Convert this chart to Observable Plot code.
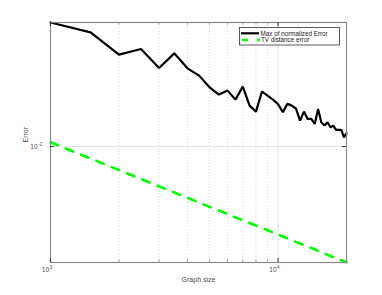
<!DOCTYPE html>
<html>
<head>
<meta charset="utf-8">
<script src="https://cdn.jsdelivr.net/npm/d3@7"></script>
<script src="https://cdn.jsdelivr.net/npm/@observablehq/plot@0.6"></script>
<style>
  html, body { margin: 0; padding: 0; background: #fff; }
  #chart { width: 382px; height: 295px; }
</style>
</head>
<body>
<div id="chart"></div>
<script>
const graphSizes = [1000,1500,2000,2500,3000,3500,4000,4500,5000,5500,6000,6500,7000,7500,8000,8500,9000,9500,10000,
  10500,11000,11500,12000,12500,13000,13500,14000,14500,15000,15500,16000,16500,17000,17500,18000,18500,19000,19500,20000];
const maxNormError = [0.0477,0.04213,0.03182,0.03419,0.02692,0.03235,0.02679,0.02443,0.02109,0.01924,0.02023,0.01806,0.02128,0.01675,0.01553,0.01997,0.01900,0.01806,0.01707,
  0.01543,0.01712,0.01675,0.01613,0.01387,0.01553,0.01417,0.01417,0.01330,0.01607,0.01358,0.01302,0.01358,0.01275,0.01302,0.01234,0.01234,0.01231,0.01124,0.01182];
const tvError = [0.01056,0.00860,0.00744,0.00665,0.00606,0.00561,0.00525,0.00494,0.00468,0.00447,0.00428,0.00410,0.00396,0.00382,0.00370,0.00359,0.00349,0.00339,0.00331,
  0.00322,0.00315,0.00308,0.00301,0.00295,0.00289,0.00284,0.00279,0.00274,0.00269,0.00265,0.00261,0.00256,0.00252,0.00249,0.00246,0.00242,0.00239,0.00236,0.00233];
const xMajorTicks = [1000, 10000];
const xMajorExponents = ["3", "4"];
const xMinorTicks = [2000,3000,4000,5000,6000,7000,8000,9000,20000];
const yMajorTicks = [0.01];
const yMajorExponents = ["-2"];
const tickBase = "10";
const seriesNames = ["Max of normalized Error", "TV distance error"];
const xLabel = "Graph size";
const yLabel = "Error";

const W = 382, H = 295, mL = 50, mR = 36, mT = 22, mB = 33;
const innerH = H - mT - mB, innerW = W - mL - mR;
const data = graphSizes.map((g, i) => ({g, m: maxNormError[i], t: tvError[i]}));
const axisColor = "#8a8a8a";
const textColor = "#4d4d4d";
const font = "'Liberation Sans', Arial, sans-serif";

const svg = Plot.plot({
  width: W, height: H,
  marginLeft: mL, marginRight: mR, marginTop: mT, marginBottom: mB,
  x: {type: "log", domain: [1000, 20000], axis: null},
  y: {type: "log", domain: [0.002323, 0.0477], axis: null},
  style: {background: "white", fontFamily: font},
  marks: [
    Plot.ruleX(xMinorTicks.filter(d => d < 20000), {x: d => d, stroke: "#cfcfcf", strokeWidth: 0.8, strokeDasharray: "1,2"}),
    Plot.ruleX([10000], {x: d => d, stroke: "#e2e2e2", strokeWidth: 1}),
    Plot.ruleY(yMajorTicks, {y: d => d, stroke: "#e2e2e2", strokeWidth: 1}),
    Plot.line(data, {x: "g", y: "t", stroke: "#00ff00", strokeWidth: 2.6, strokeDasharray: "8,8.5"}),
    Plot.line(data, {x: "g", y: "m", stroke: "black", strokeWidth: 2.2, strokeLinejoin: "miter"}),
    Plot.frame({stroke: axisColor, strokeWidth: 1.2}),
    // inward ticks
    Plot.tickX(xMinorTicks, {x: d => d, insetTop: innerH - 2.5, stroke: axisColor, strokeWidth: 0.8}),
    Plot.tickX(xMinorTicks, {x: d => d, insetBottom: innerH - 2.5, stroke: axisColor, strokeWidth: 0.8}),
    Plot.tickX(xMajorTicks, {x: d => d, insetTop: innerH - 4, stroke: "#333", strokeWidth: 1}),
    Plot.tickX(xMajorTicks, {x: d => d, insetBottom: innerH - 4, stroke: "#333", strokeWidth: 1}),
    Plot.tickY(yMajorTicks, {y: d => d, insetRight: innerW - 4, stroke: "#333", strokeWidth: 1}),
    Plot.tickY(yMajorTicks, {y: d => d, insetLeft: innerW - 4, stroke: "#333", strokeWidth: 1}),
    // tick labels: base "10" + superscript exponent
    Plot.text(xMajorTicks, {x: d => d, text: () => tickBase, frameAnchor: "bottom", dx: -1.5, dy: 9, textAnchor: "end", fontSize: 6.5, fill: textColor}),
    Plot.text(xMajorTicks, {x: d => d, text: (d, i) => xMajorExponents[i], frameAnchor: "bottom", dx: -1, dy: 6.5, textAnchor: "start", fontSize: 4.8, fill: textColor}),
    Plot.text(yMajorTicks, {y: d => d, text: () => tickBase, frameAnchor: "left", dx: -13, dy: 0.5, textAnchor: "end", fontSize: 6.5, fill: textColor}),
    Plot.text(yMajorTicks, {y: d => d, text: (d, i) => yMajorExponents[i], frameAnchor: "left", dx: -12.6, dy: -2, textAnchor: "start", fontSize: 4.8, fill: textColor}),
    Plot.text([xLabel], {text: d => d, frameAnchor: "bottom", dy: 19, fontSize: 7, fill: textColor}),
    Plot.text([yLabel], {text: d => d, frameAnchor: "left", dx: -25, rotate: -90, fontSize: 7, fill: textColor})
  ]
});
document.getElementById("chart").appendChild(svg);

// legend box (top right, inside axes)
const s = d3.select(svg);
const lg = s.append("g").attr("font-family", font).attr("font-size", 6.3).attr("fill", "#222").attr("text-anchor", "start");
lg.append("rect").attr("x", 239.5).attr("y", 27.5).attr("width", 100).attr("height", 17.5)
  .attr("fill", "white").attr("stroke", "#333").attr("stroke-width", 0.8);
lg.append("line").attr("x1", 241).attr("x2", 259).attr("y1", 33.3).attr("y2", 33.3)
  .attr("stroke", "black").attr("stroke-width", 2.2);
lg.append("line").attr("x1", 242).attr("x2", 260).attr("y1", 40).attr("y2", 40)
  .attr("stroke", "#00ff00").attr("stroke-width", 2.6).attr("stroke-dasharray", "6,9");
lg.append("text").attr("x", 260.5).attr("y", 33.3).attr("dy", "0.35em").attr("text-anchor", "start").text(seriesNames[0]);
lg.append("text").attr("x", 261).attr("y", 40).attr("dy", "0.35em").attr("text-anchor", "start").text(seriesNames[1]);
</script>
</body>
</html>
